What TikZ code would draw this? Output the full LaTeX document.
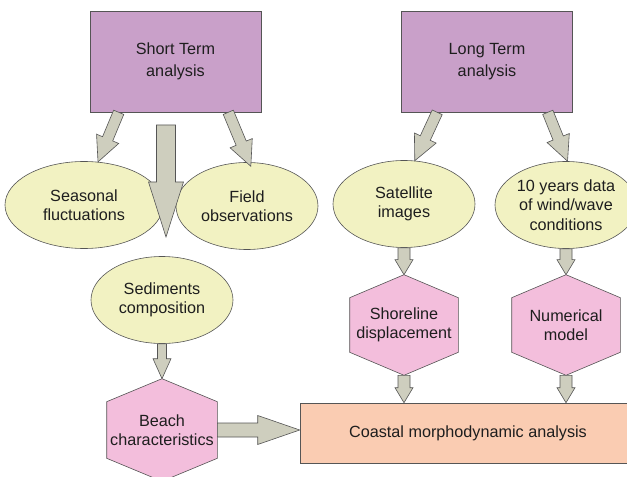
\documentclass[tikz,border=0pt]{standalone}
\usepackage{fontspec}
\setmainfont{Liberation Sans}
\usetikzlibrary{shapes.geometric,calc,backgrounds}
\definecolor{edge}{RGB}{85,85,85}
\definecolor{ink}{RGB}{30,30,30}
\definecolor{termfill}{RGB}{201,160,201}
\definecolor{datafill}{RGB}{242,242,194}
\definecolor{resultfill}{RGB}{243,190,220}
\definecolor{coastfill}{RGB}{250,204,178}
\definecolor{arrowfill}{RGB}{206,206,190}
% #1 shaft half width, #2 head half width, #3 head length, #4 from, #5 to
\newcommand\fatarrow[5]{%
  \path ($(#5)!#3!(#4)$) coordinate (h);
  \filldraw[fat] ($(#4)!#1!90:(#5)$) -- ($(h)!#1!90:(#5)$) -- ($(h)!#2!90:(#5)$)
    -- (#5) -- ($(h)!#2!-90:(#5)$) -- ($(h)!#1!-90:(#5)$) -- ($(#4)!#1!-90:(#5)$) -- cycle;}
\begin{document}
\begin{tikzpicture}[x=1bp,y=-1bp,
  every node/.style={font=\fontsize{16.2bp}{19.5bp}\selectfont, text=ink, align=center,
                     draw=edge, line width=.6bp},
  term/.style={fill=termfill, minimum width=171bp, minimum height=101bp},
  data/.style={ellipse, fill=datafill, minimum width=142bp, minimum height=87bp, inner sep=0pt},
  result/.style={draw=none, minimum width=108bp, minimum height=100bp, inner sep=0pt},
  fat/.style={fill=arrowfill, draw=edge, line width=.6bp}]
\useasboundingbox (0,0) rectangle (627,477);
\node[term] (ST) at (175.5,61.5) {Short Term\\[3bp]analysis};
\node[term] (LT) at (487,61.5) {Long Term\\[3bp]analysis};
\node[data, minimum width=158bp] (SF) at (84,205) {Seasonal\\fluctuations};
\node[data] (FO) at (247,206) {Field\\observations};
\node[data] (SI) at (404,204) {Satellite\\images};
\node[data] (WD) at (566,205) {10 years data\\of wind/wave\\conditions};
\node[data] (SC) at (162,300) {Sediments\\composition};
\node[result, minimum width=110bp, minimum height=102bp] (BC) at (162,430) {Beach\\characteristics};
\node[result] (SD) at (404,325) {Shoreline\\displacement};
\node[result] (NM) at (566,325) {Numerical\\model};
\node[fill=coastfill, minimum width=336bp, minimum height=60bp] (CM) at (468,433)
  {Coastal morphodynamic analysis};
\coordinate (top) at (166,125);
\coordinate (tip) at (166,237);

% hexagons behind their labels
\begin{scope}[on background layer]
\fill[white] (0,0) rectangle (627,477);
\foreach \n in {BC,SD,NM}
  \filldraw[fill=resultfill, draw=edge, line width=.6bp]
    (\n.north) -- ([yshift=-23bp]\n.north east) -- ([yshift=23bp]\n.south east)
    -- (\n.south) -- ([yshift=23bp]\n.south west) -- ([yshift=-23bp]\n.north west) -- cycle;
\end{scope}

\fatarrow{5.5bp}{12bp}{25bp}{[xshift=29bp]ST.south west}{SF.72}
\fatarrow{5.5bp}{12bp}{25bp}{[xshift=-33bp]ST.south east}{[yshift=-4bp]FO.85}
\fatarrow{9.5bp}{17.5bp}{55bp}{top}{tip}
\fatarrow{5.5bp}{12bp}{25bp}{[xshift=36bp]LT.south west}{SI.76}
\fatarrow{5.5bp}{12bp}{25bp}{[xshift=-25bp]LT.south east}{WD.88}
\fatarrow{6bp}{9bp}{15bp}{SI.south}{SD.north}
\fatarrow{6bp}{9bp}{15bp}{WD.south}{NM.north}
\fatarrow{6bp}{9bp}{15bp}{SD.south}{SD.south |- CM.north}
\fatarrow{6bp}{9bp}{15bp}{NM.south}{NM.south |- CM.north}
\fatarrow{4.5bp}{9bp}{20bp}{SC.south}{BC.north}
\fatarrow{7bp}{14.5bp}{42bp}{BC.east}{BC.east -| CM.west}
\end{tikzpicture}
\end{document}
